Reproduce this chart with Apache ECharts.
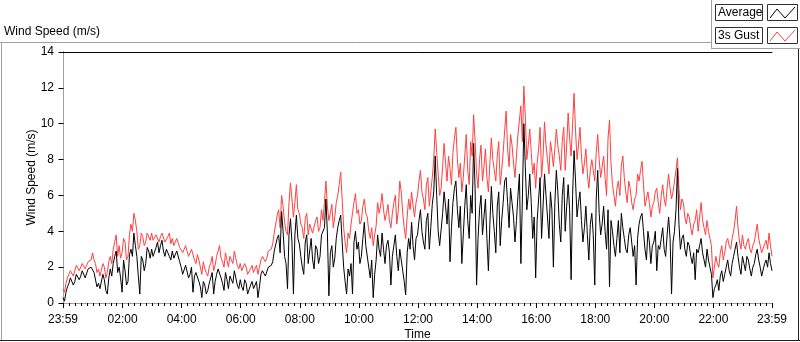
<!DOCTYPE html>
<html>
<head>
<meta charset="utf-8">
<script src="https://cdn.jsdelivr.net/npm/echarts@6/dist/echarts.min.js"></script>
<style>
  html, body { margin: 0; padding: 0; background: #fff; }
  #chart { width: 800px; height: 342px; }
</style>
</head>
<body>
<div id="chart"></div>
<script>
// samples every 3 minutes, first one at 23:59 of the previous day (-1 min)
const START_MIN = -1;
const STEP_MIN = 3;

// 3s gust (m/s), two rows per hour
const gust = [
  0.8, 0.6, 1.1, 1.4, 1.6, 1.8, 1.7, 1.5, 1.8, 2.1,
  2.0, 1.8, 1.9, 2.2, 2.1, 1.9, 2.0, 2.3, 2.2, 2.4,
  2.8, 2.4, 2.2, 1.7, 1.9, 1.5, 1.6, 2.2, 2.0, 1.4,
  1.7, 2.3, 2.6, 2.2, 3.0, 3.4, 3.8, 2.6, 3.2, 2.5,
  2.8, 3.6, 3.4, 2.4, 2.6, 3.8, 4.4, 4.0, 5.0, 4.6,
  4.0, 3.0, 3.2, 3.9, 3.7, 3.2, 3.4, 3.9, 3.8, 3.5,
  3.9, 3.5, 3.6, 3.8, 3.9, 3.4, 3.7, 3.9, 3.8, 3.4,
  3.5, 3.7, 3.9, 3.3, 3.6, 3.2, 3.3, 3.6, 3.5, 3.1,
  3.0, 2.8, 2.7, 3.2, 3.3, 2.6, 2.5, 3.0, 2.9, 2.4,
  2.2, 2.7, 2.4, 2.0, 1.6, 2.3, 1.9, 1.7, 1.5, 2.0,
  2.2, 2.6, 1.8, 2.1, 2.6, 2.9, 3.2, 2.5, 2.3, 2.0,
  2.8, 2.4, 2.0, 2.6, 2.4, 2.2, 2.9, 2.5, 2.1, 1.9,
  2.2, 1.8, 1.7, 2.2, 2.0, 1.6, 1.5, 1.9, 2.1, 1.7,
  1.8, 2.1, 1.6, 2.0, 2.4, 2.6, 2.7, 2.3, 2.5, 2.9,
  2.8, 3.0, 3.3, 3.9, 4.4, 4.9, 5.2, 4.2, 6.0, 5.4,
  4.5, 4.0, 3.8, 5.6, 6.7, 5.8, 4.8, 5.6, 6.6, 5.2,
  5.0, 4.4, 4.2, 3.6, 4.7, 5.0, 3.8, 4.4, 4.5, 3.9,
  4.0, 4.6, 4.8, 4.0, 4.2, 5.2, 4.6, 5.6, 6.8, 5.4,
  4.6, 5.0, 5.5, 4.2, 4.8, 5.6, 6.0, 6.6, 7.3, 5.8,
  4.2, 3.4, 2.8, 3.9, 3.6, 4.4, 5.0, 5.6, 6.1, 5.0,
  5.2, 4.4, 4.6, 5.4, 5.8, 5.0, 4.8, 4.0, 3.6, 4.2,
  3.2, 3.8, 4.3, 5.6, 5.0, 5.4, 6.1, 5.2, 4.6, 5.0,
  5.5, 4.6, 4.2, 5.0, 5.6, 6.0, 4.4, 5.2, 6.8, 6.2,
  5.0, 4.2, 3.6, 4.8, 5.8, 5.2, 6.2, 5.4, 4.8, 5.6,
  6.0, 6.8, 7.4, 6.2, 5.8, 5.2, 6.6, 7.0, 5.4, 6.2,
  7.0, 8.0, 9.7, 8.4, 7.2, 6.0, 6.4, 7.6, 8.9, 7.8,
  6.8, 8.2, 7.5, 6.6, 8.4, 9.2, 9.8, 8.0, 7.0, 7.8,
  6.2, 7.0, 8.2, 9.4, 7.4, 6.6, 9.0, 8.2, 10.5, 9.0,
  7.2, 6.4, 8.0, 8.8, 6.8, 7.6, 8.6, 7.0, 6.2, 7.8,
  9.2, 8.0, 7.4, 6.8, 8.2, 9.0, 6.6, 7.4, 8.4, 9.6,
  10.7, 8.6, 7.6, 9.4, 8.8, 7.8, 7.0, 8.2, 9.4, 10.2,
  11.0, 9.0, 12.1, 10.4, 8.0, 8.8, 9.7, 8.4, 7.2, 7.8,
  6.4, 7.8, 8.6, 9.8, 7.0, 8.2, 10.1, 8.8, 8.0, 7.2,
  9.0, 8.4, 7.6, 8.6, 9.7, 8.8, 8.2, 7.4, 9.0, 9.8,
  7.4, 8.8, 10.6, 9.2, 8.2, 10.0, 11.7, 9.6, 8.0, 8.8,
  9.8, 8.2, 7.2, 7.8, 8.6, 7.2, 6.4, 7.4, 8.0, 7.4,
  6.8, 8.4, 9.4, 8.0, 7.0, 7.6, 8.2, 7.0, 6.0, 9.2,
  10.2, 7.8, 6.6, 6.0, 5.4, 6.4, 6.8, 6.0, 7.7, 8.2,
  7.0, 6.2, 5.6, 6.8, 6.4, 5.6, 5.2, 5.8, 6.0, 7.2,
  6.8, 7.4, 7.9, 6.6, 5.4, 5.8, 6.2, 5.6, 4.8, 5.4,
  5.6, 6.2, 6.4, 5.6, 5.0, 6.0, 6.6, 5.8, 5.4, 6.4,
  7.2, 6.4, 5.8, 6.2, 6.8, 7.4, 8.1, 6.4, 5.2, 5.8,
  5.6, 4.8, 4.4, 5.0, 4.8, 4.2, 3.8, 4.4, 4.6, 5.2,
  4.0, 4.8, 5.6, 4.6, 4.2, 3.8, 4.6, 4.0, 3.6, 3.2,
  1.4, 2.0, 2.6, 2.2, 2.0, 2.8, 3.2, 2.4, 2.8, 3.4,
  3.6, 3.2, 3.0, 3.6, 4.0, 4.6, 5.4, 4.2, 3.4, 3.0,
  3.8, 3.2, 3.0, 3.4, 3.6, 3.0, 2.8, 3.2, 3.4, 3.9,
  4.4, 3.6, 3.2, 2.8, 2.9, 3.3, 3.5, 3.0, 3.9, 3.2,
  2.6
];

// 1 min average (m/s)
const average = [
  0.3, 0.1, 0.6, 0.9, 1.1, 1.4, 1.3, 1.0, 1.2, 1.6,
  1.6, 1.3, 1.5, 1.8, 1.7, 1.4, 1.5, 1.9, 1.8, 2.0,
  2.0, 1.7, 1.6, 0.9, 1.1, 0.8, 0.9, 1.6, 1.3, 0.7,
  0.5, 1.4, 1.9, 1.5, 2.2, 2.6, 2.9, 1.7, 2.0, 1.4,
  0.6, 2.4, 1.8, 1.0, 1.2, 2.7, 3.0, 2.6, 3.9, 3.2,
  2.6, 1.5, 0.5, 2.6, 2.4, 1.8, 2.2, 3.1, 2.9, 2.5,
  3.0, 2.6, 2.7, 3.1, 3.4, 2.8, 3.2, 3.5, 2.9, 2.6,
  3.0, 2.8, 2.6, 2.4, 2.9, 2.5, 2.6, 2.9, 2.8, 2.3,
  2.0, 1.6, 1.5, 2.1, 2.2, 1.4, 1.6, 2.0, 0.6, 1.5,
  1.7, 1.8, 1.2, 0.9, 0.3, 1.2, 1.0, 0.5, 0.7, 1.1,
  1.2, 1.7, 0.5, 1.2, 1.6, 1.9, 2.0, 1.4, 1.1, 0.7,
  1.7, 1.3, 0.8, 1.5, 1.5, 1.1, 1.8, 1.4, 1.0, 0.8,
  1.3, 0.9, 0.7, 1.3, 1.1, 0.5, 0.6, 1.0, 1.2, 0.8,
  0.9, 1.2, 0.3, 0.9, 1.6, 1.8, 1.9, 1.5, 1.6, 2.0,
  1.9, 2.1, 2.3, 2.9, 3.0, 3.6, 3.8, 2.8, 5.1, 4.0,
  2.6, 2.2, 0.8, 3.8, 4.7, 3.4, 0.5, 3.8, 4.9, 3.6,
  3.3, 2.6, 2.0, 1.6, 3.4, 3.8, 2.2, 2.9, 3.6, 2.4,
  1.9, 3.2, 3.0, 2.2, 2.6, 3.8, 3.8, 4.2, 5.8, 3.9,
  0.4, 2.8, 3.2, 2.0, 2.5, 3.6, 4.2, 4.6, 4.9, 3.4,
  2.0, 1.2, 0.5, 1.9, 1.5, 2.2, 0.5, 3.4, 4.0, 3.0,
  3.4, 2.2, 2.6, 3.6, 4.5, 3.2, 3.1, 2.0, 1.4, 2.4,
  0.3, 1.6, 2.4, 3.8, 3.0, 2.6, 3.9, 3.0, 2.2, 3.2,
  3.5, 2.8, 1.0, 2.6, 3.2, 3.8, 2.6, 1.8, 3.0, 2.4,
  1.8, 1.2, 0.45, 2.8, 3.6, 3.0, 4.5, 3.2, 2.4, 3.6,
  3.8, 4.6, 5.2, 4.0, 3.4, 3.0, 4.6, 5.0, 3.0, 4.2,
  5.5, 6.2, 8.2, 6.0, 4.0, 3.2, 3.2, 5.0, 6.2, 5.4,
  4.4, 5.8, 2.3, 4.2, 5.6, 6.4, 6.8, 5.2, 4.2, 5.4,
  2.2, 3.8, 5.4, 6.6, 4.6, 3.6, 6.0, 5.0, 8.9, 6.4,
  1.0, 3.6, 5.2, 6.0, 3.8, 4.8, 5.8, 3.6, 1.8, 4.4,
  6.5, 5.0, 4.0, 2.8, 5.4, 6.2, 3.2, 4.6, 5.6, 6.8,
  7.0, 5.6, 4.2, 6.4, 5.6, 4.8, 3.4, 4.6, 6.0, 7.2,
  2.2, 5.8, 10.0, 7.6, 5.2, 6.0, 7.2, 5.6, 3.6, 4.8,
  1.4, 4.6, 5.8, 7.0, 3.6, 5.4, 7.2, 6.0, 4.8, 3.6,
  6.2, 5.2, 2.0, 5.6, 7.4, 6.2, 4.4, 3.4, 6.0, 7.0,
  4.0, 5.4, 6.6, 5.2, 1.3, 6.0, 8.5, 6.8, 4.8, 5.6,
  6.2, 4.6, 3.4, 4.2, 5.4, 3.8, 2.4, 4.4, 5.0, 3.8,
  1.0, 5.8, 7.4, 5.0, 3.8, 4.4, 5.4, 4.0, 3.0, 5.2,
  0.9, 4.6, 4.0, 3.2, 2.6, 3.6, 4.6, 2.8, 5.0, 4.2,
  3.6, 3.0, 2.8, 3.8, 4.2, 3.4, 2.6, 3.2, 1.0, 3.6,
  4.4, 4.8, 5.0, 4.0, 3.0, 2.4, 4.0, 3.4, 2.2, 3.2,
  3.4, 4.0, 1.8, 3.2, 3.0, 3.6, 4.2, 3.0, 2.6, 3.8,
  4.8, 3.6, 0.5, 3.4, 4.0, 5.2, 7.5, 4.4, 3.0, 3.6,
  3.8, 3.0, 2.6, 3.4, 3.2, 2.6, 2.2, 2.8, 1.3, 3.0,
  2.8, 3.2, 3.6, 2.8, 2.4, 2.0, 3.0, 2.4, 2.0, 1.6,
  0.3, 0.8, 1.0, 1.3, 0.7, 1.5, 1.8, 1.2, 1.6, 2.0,
  2.4, 1.8, 1.5, 2.2, 2.6, 3.0, 3.4, 2.6, 2.0, 1.6,
  2.6, 2.2, 1.8, 2.6, 2.4, 1.9, 1.5, 2.0, 2.2, 2.7,
  3.0, 2.4, 2.0, 1.5, 1.6, 2.2, 2.4, 2.0, 2.8, 2.2,
  1.8
];

// x ticks in minutes after midnight
const labelTimes = [-1, 120, 240, 360, 480, 600, 720, 840, 960, 1080, 1200, 1320, 1439];
const minorTimes = [];
for (let m = 0; m < 1440; m += 12) minorTimes.push(m);

const FONT = 'Liberation Sans';

function toPairs(values) {
    return values.map((v, i) => [START_MIN + i * STEP_MIN, v]);
}

function fmtTime(v) {
    if (v < 0 || v >= 1439) return '23:59';
    const h = Math.floor(v / 60), m = v % 60;
    return String(h).padStart(2, '0') + ':' + String(m).padStart(2, '0');
}

function legendRow(y, label, color) {
    return [
        { type: 'rect', shape: { x: 715.5, y: y + 0.5, width: 47, height: 16 },
          style: { fill: '#fff', stroke: '#303030', lineWidth: 1 } },
        { type: 'text', x: 718, y: y + 9, style: { text: label, font: '12px ' + FONT, fill: '#000', textVerticalAlign: 'middle' } },
        { type: 'rect', shape: { x: 767.5, y: y + 0.5, width: 30, height: 16 },
          style: { fill: '#fff', stroke: '#303030', lineWidth: 1 } },
        { type: 'polyline', shape: { points: [[770, y + 14], [777, y + 5], [785, y + 14], [795, y + 3]] },
          style: { stroke: color, lineWidth: 1, fill: null } }
    ];
}

const chart = echarts.init(document.getElementById('chart'));

chart.setOption({
    animation: false,
    backgroundColor: '#fff',
    textStyle: { fontFamily: FONT },
    grid: { left: 63, right: 28, top: 52, bottom: 39, containLabel: false, outerBoundsMode: 'none' },
    xAxis: [
        {
            type: 'value', min: -1, max: 1439, position: 'bottom',
            name: 'Time', nameLocation: 'middle', nameGap: 26, nameMoveOverlap: false,
            nameTextStyle: { color: '#000', fontSize: 12, fontFamily: FONT },
            axisLine: { show: true, lineStyle: { color: '#a0a0a0' } },
            axisTick: { show: true, customValues: labelTimes, length: 5, lineStyle: { color: '#000' } },
            axisLabel: { customValues: labelTimes, formatter: fmtTime, margin: 11, color: '#000', fontSize: 12, fontFamily: FONT },
            splitLine: { show: false }
        },
        {
            type: 'value', min: -1, max: 1439, position: 'bottom',
            axisLine: { show: false },
            axisTick: { show: true, customValues: minorTimes, length: 3, lineStyle: { color: '#000' } },
            axisLabel: { show: false },
            splitLine: { show: false }
        },
        {
            type: 'value', min: -1, max: 1439, position: 'top',
            axisLine: { show: true, lineStyle: { color: '#000' } },
            axisTick: { show: false }, axisLabel: { show: false }, splitLine: { show: false }
        }
    ],
    yAxis: [
        {
            type: 'value', min: 0, max: 14, interval: 2,
            name: 'Wind Speed (m/s)', nameLocation: 'middle', nameGap: 25, nameMoveOverlap: false,
            nameTextStyle: { color: '#000', fontSize: 12, fontFamily: FONT },
            axisLine: { show: true, lineStyle: { color: '#000' } },
            axisTick: { show: true, length: 5, lineStyle: { color: '#000' } },
            axisLabel: { margin: 9, color: '#000', fontSize: 12, fontFamily: FONT },
            splitLine: { show: false }
        },
        {
            type: 'value', min: 0, max: 14, position: 'right',
            axisLine: { show: true, lineStyle: { color: '#a0a0a0' } },
            axisTick: { show: false }, axisLabel: { show: false }, splitLine: { show: false }
        }
    ],
    series: [
        {
            name: '3s Gust', type: 'line', data: toPairs(gust),
            showSymbol: false, symbol: 'none',
            lineStyle: { color: '#ff4040', width: 1 }, z: 2
        },
        {
            name: 'Average', type: 'line', data: toPairs(average),
            showSymbol: false, symbol: 'none',
            lineStyle: { color: '#000', width: 1 }, z: 3
        }
    ],
    graphic: [
        // frame of the graph control
        { type: 'line', shape: { x1: 0, y1: 42.5, x2: 711, y2: 42.5 }, style: { stroke: '#a0a0a0' } },
        { type: 'line', shape: { x1: 1.5, y1: 42, x2: 1.5, y2: 341 }, style: { stroke: '#a0a0a0' } },
        { type: 'line', shape: { x1: 0, y1: 340.5, x2: 800, y2: 340.5 }, style: { stroke: '#202020' } },
        { type: 'line', shape: { x1: 798.5, y1: 48, x2: 798.5, y2: 341 }, style: { stroke: '#202020' } },
        { type: 'line', shape: { x1: 711.5, y1: 0, x2: 711.5, y2: 48 }, style: { stroke: '#a0a0a0' } },
        { type: 'line', shape: { x1: 711, y1: 48.5, x2: 800, y2: 48.5 }, style: { stroke: '#a0a0a0' } },
        { type: 'text', x: 4, y: 32, style: { text: 'Wind Speed (m/s)', font: '12px ' + FONT, fill: '#000', textVerticalAlign: 'middle' } },
        ...legendRow(4, 'Average', '#000'),
        ...legendRow(27, '3s Gust', '#ff4040')
    ]
});
</script>
</body>
</html>
